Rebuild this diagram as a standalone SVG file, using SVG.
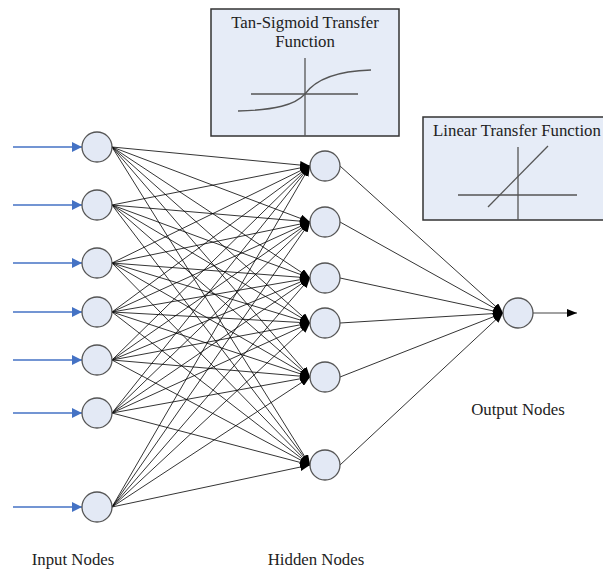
<svg xmlns="http://www.w3.org/2000/svg" width="603" height="572" viewBox="0 0 603 572">
<defs>
<marker id="ah" markerWidth="10" markerHeight="8" refX="10" refY="4" orient="auto" markerUnits="userSpaceOnUse"><path d="M0,0 L10,4 L0,8 z" fill="#000"/></marker>
<marker id="ab" markerWidth="10" markerHeight="10" refX="10" refY="5" orient="auto" markerUnits="userSpaceOnUse"><path d="M0,0 L10,5 L0,10 z" fill="#4472C4"/></marker>
</defs>
<style>
.node{fill:#E3E9F5;stroke:#555;stroke-width:1.3}
.c{stroke:#000;stroke-width:0.8;fill:none;marker-end:url(#ah)}
.in{stroke:#4472C4;stroke-width:1.3;marker-end:url(#ab)}
.box{fill:#E6ECF7;stroke:#333;stroke-width:1.5}
.ax{stroke:#555;stroke-width:1.3;fill:none}
text{font-family:"Liberation Serif","Times New Roman",serif;font-size:16.8px;fill:#222;text-anchor:middle}
</style>
<rect width="603" height="572" fill="#fff"/>
<g id="connectors">
<line class="in" x1="13" y1="147" x2="82" y2="147"/>
<line class="in" x1="13" y1="205" x2="82" y2="205"/>
<line class="in" x1="13" y1="263" x2="82" y2="263"/>
<line class="in" x1="13" y1="312" x2="82" y2="312"/>
<line class="in" x1="13" y1="360" x2="82" y2="360"/>
<line class="in" x1="13" y1="413" x2="82" y2="413"/>
<line class="in" x1="13" y1="507" x2="82" y2="507"/>
<g id="ih">
<path class="c" d="M112,147L310,166"/><path class="c" d="M112,147L310,222"/><path class="c" d="M112,147L310,278"/><path class="c" d="M112,147L310,323"/><path class="c" d="M112,147L310,377"/><path class="c" d="M112,147L310,465"/>
<path class="c" d="M112,205L310,166"/><path class="c" d="M112,205L310,222"/><path class="c" d="M112,205L310,278"/><path class="c" d="M112,205L310,323"/><path class="c" d="M112,205L310,377"/><path class="c" d="M112,205L310,465"/>
<path class="c" d="M112,263L310,166"/><path class="c" d="M112,263L310,222"/><path class="c" d="M112,263L310,278"/><path class="c" d="M112,263L310,323"/><path class="c" d="M112,263L310,377"/><path class="c" d="M112,263L310,465"/>
<path class="c" d="M112,312L310,166"/><path class="c" d="M112,312L310,222"/><path class="c" d="M112,312L310,278"/><path class="c" d="M112,312L310,323"/><path class="c" d="M112,312L310,377"/><path class="c" d="M112,312L310,465"/>
<path class="c" d="M112,360L310,166"/><path class="c" d="M112,360L310,222"/><path class="c" d="M112,360L310,278"/><path class="c" d="M112,360L310,323"/><path class="c" d="M112,360L310,377"/><path class="c" d="M112,360L310,465"/>
<path class="c" d="M112,413L310,166"/><path class="c" d="M112,413L310,222"/><path class="c" d="M112,413L310,278"/><path class="c" d="M112,413L310,323"/><path class="c" d="M112,413L310,377"/><path class="c" d="M112,413L310,465"/>
<path class="c" d="M112,507L310,166"/><path class="c" d="M112,507L310,222"/><path class="c" d="M112,507L310,278"/><path class="c" d="M112,507L310,323"/><path class="c" d="M112,507L310,377"/><path class="c" d="M112,507L310,465"/>
</g>
<g id="ho">
<path class="c" d="M340,166L503,313"/><path class="c" d="M340,222L503,313"/><path class="c" d="M340,278L503,313"/><path class="c" d="M340,323L503,313"/><path class="c" d="M340,377L503,313"/><path class="c" d="M340,465L503,313"/>
</g>
<line x1="533" y1="313" x2="577" y2="313" stroke="#444" stroke-width="1.2" marker-end="url(#ah)"/>
</g>
<g id="input-nodes">
<circle class="node" cx="97" cy="147" r="15"/>
<circle class="node" cx="97" cy="205" r="15"/>
<circle class="node" cx="97" cy="263" r="15"/>
<circle class="node" cx="97" cy="312" r="15"/>
<circle class="node" cx="97" cy="360" r="15"/>
<circle class="node" cx="97" cy="413" r="15"/>
<circle class="node" cx="97" cy="507" r="15"/>
</g>
<g id="hidden-nodes">
<circle class="node" cx="325" cy="166" r="15"/>
<circle class="node" cx="325" cy="222" r="15"/>
<circle class="node" cx="325" cy="278" r="15"/>
<circle class="node" cx="325" cy="323" r="15"/>
<circle class="node" cx="325" cy="377" r="15"/>
<circle class="node" cx="325" cy="465" r="15"/>
</g>
<g id="output-node">
<circle class="node" cx="518" cy="313" r="15"/>
</g>
<g id="tansig-box">
<rect class="box" x="211" y="9" width="188" height="127"/>
<text x="305" y="28">Tan-Sigmoid Transfer</text>
<text x="305" y="47">Function</text>
<line class="ax" x1="251" y1="94" x2="358" y2="94"/>
<line class="ax" x1="305" y1="58" x2="305" y2="136"/>
<path class="ax" d="M238,111 C275,110 295,105 305,94 C315,80 335,71 371,70" stroke="#333"/>
</g>
<g id="linear-box">
<rect class="box" x="423" y="117" width="182" height="103"/>
<text x="517" y="136">Linear Transfer Function</text>
<line class="ax" x1="458" y1="195" x2="577" y2="195"/>
<line class="ax" x1="518" y1="147" x2="518" y2="220"/>
<line class="ax" x1="488" y1="207" x2="548" y2="146" stroke="#333"/>
</g>
<g id="labels">
<text x="73" y="565">Input Nodes</text>
<text x="316" y="565">Hidden Nodes</text>
<text x="518" y="415">Output Nodes</text>
</g>
</svg>
